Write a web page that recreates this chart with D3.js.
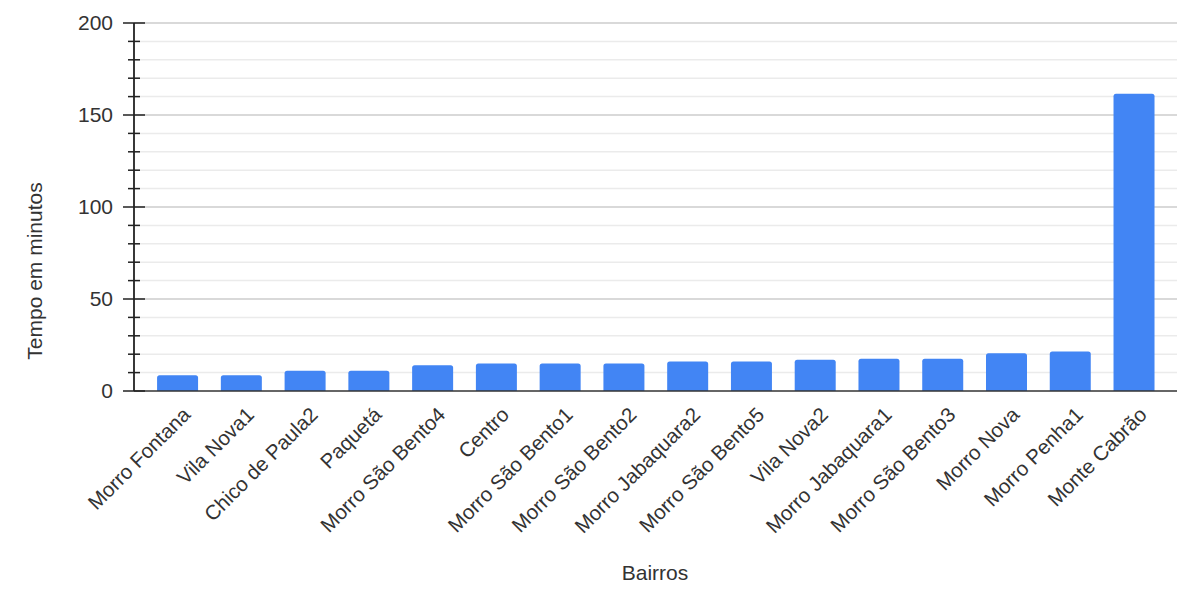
<!DOCTYPE html>
<html><head><meta charset="utf-8">
<script src="https://cdn.jsdelivr.net/npm/d3@7"></script>
<style>body{margin:0;background:#fff;}svg{display:block;font-family:"Liberation Sans",Arial,sans-serif;}</style>
</head><body>
<svg id="c" width="1191" height="595"></svg>
<script>
const categories = ["Morro Fontana","Vila Nova1","Chico de Paula2","Paquetá","Morro São Bento4","Centro","Morro São Bento1","Morro São Bento2","Morro Jabaquara2","Morro São Bento5","Vila Nova2","Morro Jabaquara1","Morro São Bento3","Morro Nova","Morro Penha1","Monte Cabrão"];
const values = [8.5, 8.5, 11, 11, 14, 15, 15, 15, 16, 16, 17, 17.5, 17.5, 20.5, 21.5, 161.5];
const yMajorTicks = [0, 50, 100, 150, 200];
const yMinorTicks = d3.range(0, 201, 10);
const xTitle = "Bairros";
const yTitle = "Tempo em minutos";

const svg = d3.select("#c");
const axisX = 134, plotRight = 1177, y0 = 391, yTop = 23;
const textColor = "#333";
const x = d3.scaleBand().domain(categories).range([145.6, 1166]).paddingInner(0.357).paddingOuter(0.18);
const y = d3.scaleLinear().domain([0, 200]).range([y0, yTop]);

// grid
svg.append("g").selectAll("line").data(yMinorTicks.filter(d => d % 50 !== 0)).join("line")
  .attr("x1", axisX).attr("x2", plotRight).attr("y1", d => y(d)).attr("y2", d => y(d))
  .attr("stroke", "#ebebeb").attr("stroke-width", 1.5);
svg.append("g").selectAll("line").data(yMajorTicks.filter(d => d !== 0)).join("line")
  .attr("x1", axisX).attr("x2", plotRight).attr("y1", d => y(d)).attr("y2", d => y(d))
  .attr("stroke", "#cccccc").attr("stroke-width", 1.5);

// bars with rounded top corners
const r = 2.5;
svg.append("g").selectAll("path").data(values).join("path")
  .attr("fill", "#4285f4")
  .attr("d", (v, i) => {
    const x0 = x(categories[i]), w = x.bandwidth(), yt = y(v), yb = y(0);
    return `M${x0},${yb}V${yt + r}Q${x0},${yt} ${x0 + r},${yt}H${x0 + w - r}Q${x0 + w},${yt} ${x0 + w},${yt + r}V${yb}Z`;
  });

// baseline
svg.append("line").attr("x1", axisX).attr("x2", plotRight).attr("y1", y0).attr("y2", y0)
  .attr("stroke", "#333").attr("stroke-width", 1.5);

// y axis
const yAxisMajor = d3.axisLeft(y).tickValues(yMajorTicks).tickSize(0).tickPadding(21);
const gy = svg.append("g").attr("transform", `translate(${axisX},0)`).call(yAxisMajor);
gy.select(".domain").remove();
gy.selectAll("text").attr("font-size", 21).attr("fill", textColor).attr("font-family", "Liberation Sans, Arial, sans-serif");
svg.append("line").attr("x1", axisX).attr("x2", axisX).attr("y1", yTop).attr("y2", y0)
  .attr("stroke", "#222").attr("stroke-width", 1.8);
svg.append("g").selectAll("line").data(yMinorTicks.filter(d => d % 50 !== 0)).join("line")
  .attr("x1", axisX - 6).attr("x2", axisX + 6).attr("y1", d => y(d)).attr("y2", d => y(d))
  .attr("stroke", "#222").attr("stroke-width", 1.5);
svg.append("g").selectAll("line").data(yMajorTicks).join("line")
  .attr("x1", axisX - 11).attr("x2", axisX + 11).attr("y1", d => y(d)).attr("y2", d => y(d))
  .attr("stroke", "#222").attr("stroke-width", 1.5);

// x labels
svg.append("g").selectAll("text").data(categories).join("text")
  .attr("transform", d => `translate(${x(d) + x.bandwidth() / 2 + 14},${y0 + 25}) rotate(-45)`)
  .attr("text-anchor", "end").attr("font-size", 20.5).attr("fill", textColor)
  .text(d => d);

// titles
svg.append("text").attr("x", 655).attr("y", 580).attr("text-anchor", "middle")
  .attr("font-size", 21).attr("fill", textColor).text(xTitle);
svg.append("text").attr("transform", "translate(42,271) rotate(-90)").attr("text-anchor", "middle")
  .attr("font-size", 21).attr("fill", textColor).text(yTitle);
</script>
</body></html>
